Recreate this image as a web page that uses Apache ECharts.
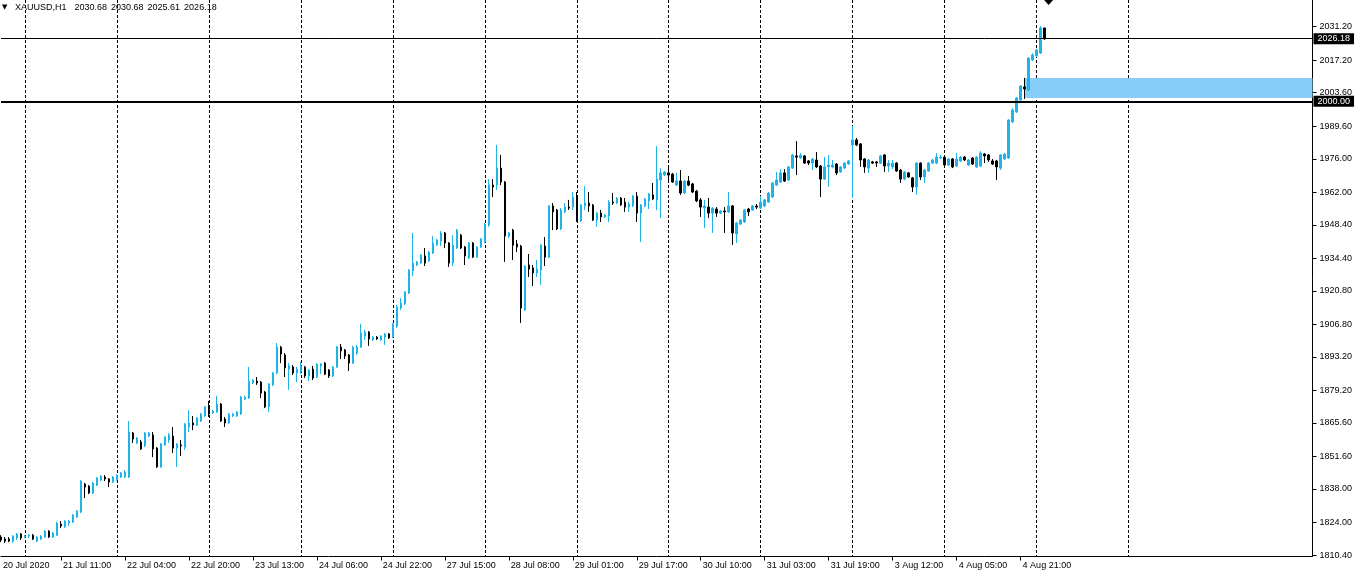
<!DOCTYPE html>
<html><head><meta charset="utf-8">
<script src="https://cdn.jsdelivr.net/npm/echarts@6/dist/echarts.min.js"></script>
<style>html,body{margin:0;padding:0;background:#fff}#c{width:1358px;height:577px}</style>
</head><body><div id="c"></div>
<script>
const symbolName = 'XAUUSD,H1';
const opens = [1817.9,1817.1,1817.1,1816.2,1817.5,1819.2,1817.9,1818.3,1818.7,1816.2,1817.1,1817.9,1820.4,1817.9,1818.7,1823.3,1822.1,1823.8,1824.2,1826.3,1828.4,1840.1,1839.2,1836.3,1839.6,1841.7,1843.0,1842.2,1840.9,1841.7,1843.0,1843.0,1843.0,1861.4,1857.2,1857.6,1856.0,1860.1,1860.6,1855.1,1847.2,1856.4,1858.5,1860.1,1855.1,1856.4,1855.5,1863.9,1865.6,1864.7,1866.4,1868.5,1872.3,1869.8,1870.2,1873.5,1867.2,1865.6,1868.5,1868.5,1869.3,1875.6,1876.0,1882.3,1883.1,1882.7,1878.5,1872.3,1881.5,1886.5,1897.3,1894.0,1888.1,1889.0,1886.5,1886.9,1889.0,1885.2,1888.1,1884.8,1889.4,1890.6,1887.7,1885.2,1889.0,1897.3,1896.1,1894.0,1890.6,1894.8,1897.3,1901.9,1903.6,1900.3,1901.5,1900.3,1901.5,1902.8,1901.5,1906.1,1913.6,1915.3,1919.9,1929.1,1931.6,1932.4,1935.4,1933.3,1936.6,1940.0,1941.6,1945.0,1940.8,1932.4,1938.7,1944.1,1939.1,1934.5,1940.8,1934.9,1939.1,1941.2,1948.3,1965.0,1965.0,1972.1,1966.3,1943.7,1946.2,1940.4,1939.5,1912.8,1931.6,1930.4,1928.3,1929.5,1939.5,1934.9,1956.3,1954.6,1946.7,1953.8,1955.8,1955.8,1960.4,1950.0,1956.3,1957.5,1956.7,1950.4,1953.3,1951.7,1952.1,1957.9,1957.5,1959.6,1957.9,1955.8,1956.3,1960.4,1953.3,1956.3,1958.4,1960.9,1958.8,1967.1,1969.2,1970.1,1969.6,1965.0,1966.7,1961.7,1966.7,1965.5,1962.5,1958.8,1955.4,1955.8,1953.3,1955.0,1953.3,1954.2,1953.8,1956.3,1944.6,1948.7,1949.6,1955.0,1954.6,1956.3,1955.4,1956.3,1957.9,1960.0,1965.0,1966.3,1970.1,1967.1,1972.1,1977.2,1976.3,1977.2,1975.1,1974.2,1975.5,1973.0,1967.5,1972.6,1972.6,1973.8,1970.5,1972.1,1973.8,1981.8,1983.9,1982.2,1975.9,1972.1,1974.7,1974.7,1974.2,1977.6,1973.0,1972.6,1974.2,1971.3,1967.5,1970.1,1968.0,1964.2,1974.2,1968.4,1970.9,1974.2,1974.2,1976.3,1976.7,1973.4,1975.9,1973.0,1975.1,1976.7,1973.4,1976.3,1972.6,1973.0,1978.0,1977.6,1975.1,1975.1,1972.1,1975.9,1976.3,1991.4,1995.6,2000.6,2006.0,2004.7,2017.3,2019.0,2020.2,2030.68];
const closes = [1816.7,1816.2,1816.2,1818.3,1819.2,1817.5,1818.3,1818.7,1817.1,1817.9,1818.3,1820.4,1817.9,1819.6,1823.8,1822.5,1824.6,1824.6,1827.1,1828.8,1841.3,1838.8,1836.3,1840.5,1842.6,1843.4,1842.2,1840.9,1843.0,1843.8,1844.7,1845.1,1861.8,1858.9,1859.3,1854.7,1861.4,1861.4,1854.7,1847.2,1856.8,1859.7,1860.6,1855.1,1856.8,1856.0,1865.2,1865.6,1864.7,1867.7,1869.3,1872.3,1869.3,1870.6,1873.5,1866.4,1865.6,1869.3,1869.3,1870.2,1876.4,1876.4,1883.1,1883.5,1882.3,1878.1,1872.3,1881.9,1886.5,1897.3,1894.4,1888.6,1889.4,1886.5,1888.1,1889.4,1885.2,1887.7,1884.4,1890.2,1890.2,1886.0,1885.2,1889.0,1897.3,1895.7,1893.6,1890.6,1897.3,1897.3,1903.2,1903.6,1900.7,1901.5,1900.7,1901.9,1902.8,1901.1,1907.0,1914.1,1915.7,1920.3,1929.5,1932.4,1932.9,1935.8,1932.4,1937.0,1940.8,1942.1,1945.0,1940.8,1932.4,1939.9,1946.2,1938.7,1935.4,1940.8,1934.9,1939.1,1942.5,1948.7,1965.0,1964.2,1972.1,1966.3,1943.7,1945.0,1939.9,1939.1,1913.6,1931.2,1929.9,1928.3,1929.9,1939.9,1934.9,1956.3,1953.8,1946.7,1954.6,1955.8,1955.4,1960.0,1950.0,1956.7,1957.5,1956.3,1950.4,1953.3,1951.7,1952.5,1957.9,1957.5,1959.6,1956.7,1955.8,1957.1,1960.4,1953.3,1956.7,1959.2,1961.3,1959.2,1967.5,1970.1,1970.5,1969.2,1966.3,1966.7,1961.7,1966.7,1965.0,1962.1,1958.4,1955.8,1956.3,1953.3,1955.4,1953.3,1954.2,1953.8,1956.3,1945.0,1949.2,1950.4,1954.6,1953.8,1956.3,1955.8,1957.9,1958.8,1961.7,1965.9,1967.1,1970.1,1966.7,1972.6,1977.6,1976.7,1977.6,1974.2,1974.2,1975.9,1972.6,1967.5,1972.6,1973.4,1973.4,1970.1,1972.6,1974.2,1975.1,1983.9,1981.8,1975.5,1972.6,1975.5,1974.2,1974.2,1977.2,1973.0,1974.2,1974.2,1970.9,1967.5,1970.5,1968.4,1964.2,1974.2,1968.4,1971.3,1974.2,1975.5,1976.7,1976.7,1973.4,1975.9,1972.6,1975.9,1976.7,1975.5,1975.5,1973.8,1976.7,1978.4,1977.2,1975.5,1973.8,1972.6,1977.6,1978.0,1992.2,1996.4,2001.4,2006.4,2005.2,2018.1,2019.4,2021.5,2030.7,2026.18];
const lows = [1815.8,1815.4,1815.8,1815.4,1816.7,1816.7,1817.5,1817.5,1816.7,1815.8,1816.7,1817.5,1817.5,1817.5,1818.3,1821.7,1821.7,1822.5,1823.8,1825.9,1827.9,1834.2,1835.9,1835.9,1839.2,1841.3,1841.3,1838.8,1840.5,1841.3,1842.6,1842.6,1842.6,1857.2,1856.8,1854.3,1855.5,1859.7,1851.3,1846.8,1846.8,1856.0,1857.2,1853.0,1847.2,1851.8,1854.3,1861.8,1862.6,1864.3,1866.0,1868.1,1868.1,1869.3,1869.8,1866.0,1863.9,1865.2,1868.1,1868.1,1868.9,1875.2,1875.6,1881.9,1881.5,1876.0,1871.8,1870.2,1881.0,1886.0,1890.6,1884.8,1879.4,1885.6,1882.7,1886.0,1884.4,1883.1,1883.5,1884.4,1886.0,1885.6,1884.4,1884.8,1888.6,1892.3,1892.3,1887.3,1890.2,1894.0,1896.9,1900.3,1897.8,1899.8,1900.3,1899.8,1898.2,1900.7,1901.1,1905.3,1912.8,1914.9,1919.5,1927.0,1931.2,1932.0,1931.2,1932.9,1936.2,1939.5,1939.5,1938.7,1930.8,1931.2,1938.3,1938.3,1931.6,1934.1,1934.5,1934.5,1938.7,1940.8,1947.5,1960.0,1963.0,1965.0,1932.9,1942.9,1933.7,1937.0,1907.4,1912.4,1926.6,1922.8,1926.6,1923.3,1931.2,1934.5,1946.2,1946.2,1946.2,1953.3,1954.6,1954.6,1949.6,1949.6,1954.6,1953.8,1950.0,1947.5,1949.6,1951.2,1949.6,1956.7,1957.1,1956.3,1953.8,1953.8,1955.8,1949.6,1941.2,1955.8,1955.0,1958.8,1954.6,1951.2,1968.8,1967.1,1965.9,1964.6,1960.9,1961.3,1964.6,1961.7,1957.9,1951.7,1947.1,1951.2,1945.0,1951.7,1952.9,1945.0,1953.3,1940.0,1940.8,1948.3,1949.2,1952.1,1954.2,1955.0,1955.0,1955.8,1957.5,1959.6,1964.6,1965.9,1966.3,1966.7,1971.7,1969.2,1975.9,1973.8,1973.4,1971.3,1972.1,1960.0,1967.1,1964.2,1972.1,1969.2,1970.1,1971.7,1973.4,1959.6,1981.3,1972.6,1970.1,1970.1,1973.8,1972.6,1973.8,1970.5,1970.5,1971.7,1970.5,1965.9,1967.1,1968.0,1962.1,1960.9,1967.1,1965.9,1970.5,1973.8,1973.8,1975.9,1973.0,1973.0,1972.1,1972.6,1974.7,1975.1,1973.0,1973.4,1972.1,1972.6,1974.2,1974.7,1973.4,1967.1,1971.3,1975.5,1975.9,1991.0,1995.1,2000.1,2001.0,2004.3,2016.9,2018.5,2019.8,2025.61];
const highs = [1818.7,1817.9,1817.9,1818.7,1819.6,1819.6,1818.7,1819.2,1819.2,1818.3,1818.7,1820.8,1820.8,1820.0,1824.2,1824.6,1825.0,1825.0,1827.5,1829.2,1841.7,1840.5,1839.6,1840.9,1843.0,1843.8,1843.8,1842.6,1843.4,1844.2,1845.1,1845.9,1866.4,1861.8,1859.7,1858.5,1861.8,1861.8,1861.8,1855.5,1857.2,1860.1,1861.4,1863.9,1857.2,1858.5,1865.6,1871.0,1868.5,1868.1,1869.8,1872.7,1874.8,1871.0,1876.9,1873.9,1868.1,1869.8,1869.8,1870.6,1876.9,1876.9,1889.0,1883.9,1884.8,1883.1,1879.0,1882.3,1886.9,1899.0,1897.8,1894.8,1890.6,1889.8,1889.0,1891.1,1889.4,1888.1,1889.4,1890.6,1890.6,1891.1,1888.1,1889.4,1897.8,1898.6,1896.5,1894.4,1897.8,1898.2,1907.0,1904.4,1904.0,1901.9,1901.9,1902.3,1903.2,1903.2,1907.4,1914.9,1917.8,1920.7,1929.9,1945.0,1933.3,1936.2,1938.7,1937.5,1943.7,1942.5,1945.8,1945.4,1941.2,1944.1,1946.7,1944.6,1939.5,1941.2,1941.2,1939.5,1942.9,1949.2,1967.5,1967.5,1981.8,1977.6,1966.7,1945.4,1946.7,1942.1,1940.0,1931.6,1936.2,1931.6,1933.7,1940.4,1943.3,1956.7,1957.5,1955.0,1955.4,1957.5,1958.8,1962.1,1962.1,1957.1,1964.6,1962.1,1957.1,1953.8,1954.6,1952.9,1958.8,1961.7,1960.0,1960.0,1959.6,1957.9,1960.9,1962.1,1957.1,1959.6,1961.7,1965.9,1981.3,1972.1,1970.9,1972.6,1970.1,1970.1,1971.3,1967.1,1968.8,1965.9,1963.0,1959.6,1958.8,1959.6,1955.8,1955.8,1954.6,1955.8,1962.1,1956.7,1949.6,1950.8,1955.0,1955.4,1956.7,1957.1,1960.4,1959.2,1962.1,1966.3,1970.5,1971.7,1971.7,1973.0,1978.0,1983.4,1978.4,1977.6,1975.5,1976.3,1978.8,1973.4,1976.7,1977.6,1975.5,1974.2,1973.0,1974.6,1975.5,1989.7,1984.7,1982.6,1976.3,1975.9,1975.1,1975.1,1977.6,1978.0,1975.5,1975.5,1974.6,1971.7,1970.9,1970.5,1968.4,1974.6,1974.6,1971.7,1974.6,1975.9,1978.4,1977.6,1977.2,1976.3,1976.3,1978.4,1977.2,1977.2,1975.9,1976.7,1977.2,1979.2,1978.4,1978.0,1975.9,1975.5,1978.0,1978.4,1992.6,1997.2,2001.8,2006.8,2009.8,2018.5,2020.2,2021.9,2031.5,2030.68];
const xTickLabels = ['20 Jul 2020','21 Jul 11:00','22 Jul 04:00','22 Jul 20:00','23 Jul 13:00','24 Jul 06:00','24 Jul 22:00','27 Jul 15:00','28 Jul 08:00','29 Jul 01:00','29 Jul 17:00','30 Jul 10:00','31 Jul 03:00','31 Jul 19:00','3 Aug 12:00','4 Aug 05:00','4 Aug 21:00'];
const yTickValues = [1810.4,1824.0,1838.0,1851.6,1865.6,1879.2,1893.2,1906.8,1920.8,1934.4,1948.4,1962.0,1976.0,1989.6,2003.6,2017.2,2031.2];
const bidPrice = 2026.18;
const levelPrice = 2000.00;
const zoneTop = 2009.8;
const zoneBottom = 2001.4;
const zoneStartBar = 256;
const arrowBar = 262;

const yMin = 1809.78, yMax = 2042.36;
const totalSlots = 329;
const firstBarTime = Date.UTC(2020, 6, 20, 19);

// hourly bar times (gold: no 00:00 bar, no weekend bars)
const categories = [];
for (let t = firstBarTime; categories.length < totalSlots; t += 3600000) {
  const d = new Date(t);
  const h = d.getUTCHours(), wd = d.getUTCDay();
  if (h === 0 || wd === 0 || wd === 6) continue;
  categories.push(d.toISOString().slice(0, 13).replace('T', ' ') + ':00');
}
function labelIndex(i) {
  if (i === 0) return 0;
  if (i >= 15 && (i - 15) % 16 === 0) {
    const k = (i - 15) / 16 + 1;
    return k < xTickLabels.length ? k : -1;
  }
  return -1;
}
const candleData = opens.map((o, i) => [o, closes[i], lows[i], highs[i]]);
const last = opens.length - 1;
const FONT = 'Liberation Sans';
const BULL = '#1FB3E8';
const headerVals = [opens[last], highs[last], lows[last], closes[last]].map(v => v.toFixed(2));

const chart = echarts.init(document.getElementById('c'), null, {renderer: 'canvas'});
chart.setOption({
  animation: false,
  backgroundColor: '#fff',
  title: {
    left: 2, top: 3, padding: 0,
    text: '{t|▼}{s|' + symbolName + '}{f|' + headerVals[0] + '}' + headerVals.slice(1).map(v => '{p|' + v + '}').join(''),
    textStyle: {fontFamily: FONT, fontSize: 9, fontWeight: 'normal', color: '#000',
      rich: {
        t: {fontSize: 7, color: '#000', fontFamily: 'DejaVu Sans', width: 13},
        s: {fontSize: 9, fontFamily: FONT, color: '#000'},
        f: {fontSize: 9, fontFamily: FONT, color: '#000', padding: [0, 0, 0, 8]},
        p: {fontSize: 9, fontFamily: FONT, color: '#000', padding: [0, 0, 0, 4]}
      }}
  },
  grid: {left: 0.5, right: 45.5, top: 0, bottom: 20.5, containLabel: false},
  xAxis: {
    type: 'category', data: categories, boundaryGap: false,
    axisLine: {show: true, lineStyle: {color: '#000', width: 1}},
    axisTick: {show: true, length: 4, interval: (i) => i > 0 && labelIndex(i) >= 0, lineStyle: {color: '#000'}},
    axisLabel: {
      interval: (i) => labelIndex(i) >= 0,
      formatter: (v, i) => { const k = labelIndex(i); return k >= 0 ? xTickLabels[k] : ''; },
      align: 'left', padding: [0, 0, 0, 2], margin: 5,
      color: '#000', fontFamily: FONT, fontSize: 9
    },
    splitLine: {show: true, interval: (i) => i >= 6 && i <= 282 && (i - 6) % 23 === 0,
      lineStyle: {color: '#000', width: 1, type: [3, 2]}}
  },
  yAxis: {
    type: 'value', position: 'right', min: yMin, max: yMax, scale: true,
    axisLine: {show: true, lineStyle: {color: '#000', width: 1}},
    axisTick: {show: true, length: 4, customValues: yTickValues, lineStyle: {color: '#000'}},
    axisLabel: {customValues: yTickValues, formatter: (v) => v.toFixed(2), color: '#000',
      fontFamily: FONT, fontSize: 9, margin: 7},
    splitLine: {show: false}
  },
  series: [{
    type: 'candlestick',
    data: candleData,
    barWidth: 2,
    z: 3,
    itemStyle: {color: BULL, color0: '#000', borderColor: BULL, borderColor0: '#000', borderColorDoji: '#000', borderWidth: 1},
    markArea: {
      silent: true, z: 1,
      itemStyle: {color: '#87CEFA', opacity: 1},
      data: [[{coord: [zoneStartBar, zoneTop]}, {coord: [totalSlots - 1, zoneBottom]}]]
    },
    markLine: {
      silent: true, symbol: ['none', 'none'], animation: false,
      data: [
        {yAxis: bidPrice, lineStyle: {color: '#000', width: 1, type: 'solid'}},
        {yAxis: levelPrice, lineStyle: {color: '#000', width: 2, type: 'solid'}}
      ],
      label: {show: true, position: 'end', distance: 1, formatter: (p) => p.value.toFixed(2),
        color: '#fff', backgroundColor: '#000', padding: [1, 4, 1, 4], fontFamily: FONT, fontSize: 9}
    },
    markPoint: {
      silent: true, symbol: 'diamond', symbolSize: [9, 10],
      itemStyle: {color: '#000'}, label: {show: false},
      data: [{coord: [arrowBar, yMax]}]
    }
  }]
});
</script></body></html>
